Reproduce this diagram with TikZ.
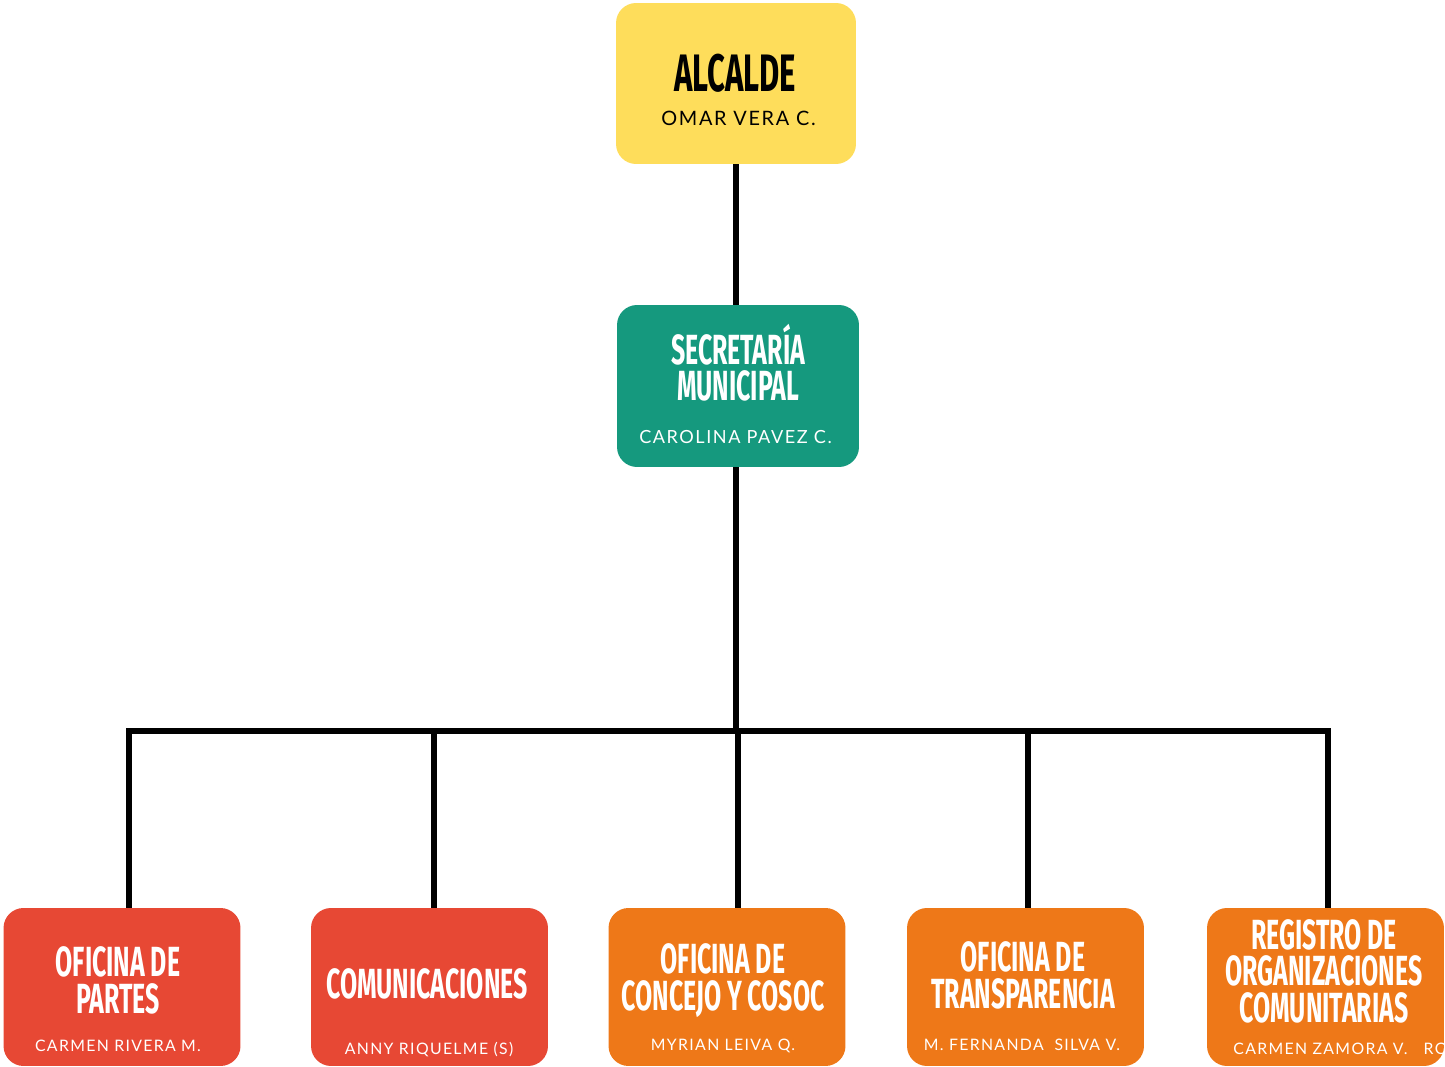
\documentclass[tikz,border=0pt]{standalone}
\usepackage{fontspec}
\setmainfont{Lato}
\newfontfamily\headfont[FakeStretch=0.59]{Fira Sans}
\newfontfamily\namefont[LetterSpace=8.5]{Lato}
\usetikzlibrary{positioning}
\definecolor{alcyellow}{HTML}{FEDD5B}
\definecolor{secgreen}{HTML}{15997E}
\definecolor{ofred}{HTML}{E74834}
\definecolor{oforange}{HTML}{EE7818}
\tikzstyle{unitbox} = [rectangle, rounded corners=0.4cm, minimum width=4.8cm, minimum height=3.22cm, inner sep=0pt]
\tikzstyle{bottombox} = [unitbox, minimum width=4.74cm, minimum height=3.16cm]
\tikzstyle{unittitle} = [font=\headfont\bfseries\fontsize{24}{20.5}\selectfont, text=white, align=center, anchor=base, inner sep=0pt]
\tikzstyle{person} = [font=\namefont\fontsize{9}{10}\selectfont, text=white, anchor=base, inner sep=0pt]
\tikzstyle{link} = [line width=3.2pt]

\begin{document}
\begin{tikzpicture}[x=0.02cm, y=-0.02cm]
	\useasboundingbox (0,0) rectangle (1445,1067);
	\node(alcalde) [unitbox, fill=alcyellow] at (736,83.5) {};
	\node(secretaria) [unitbox, fill=secgreen, minimum width=4.84cm, minimum height=3.24cm] at (738,386) {};
	\node(partes) [bottombox, fill=ofred] at (122,987) {};
	\node(comunicaciones) [bottombox, fill=ofred] at (429.5,987) {};
	\node(concejo) [bottombox, fill=oforange] at (727,987) {};
	\node(transparencia) [bottombox, fill=oforange] at (1025.5,987) {};
	\node(registro) [bottombox, fill=oforange] at (1325.5,987) {};

	% last line of each title sits on the given point
	\node(alcalde_t) [unittitle, text=black, font=\headfont\bfseries\fontsize{30}{30}\selectfont] at (735,92) {ALCALDE};
	\node(alcalde_n) [person, text=black, font=\namefont\fontsize{11.3}{12}\selectfont] at (738.5,126) {OMAR VERA C.};
	\node(secretaria_t) [unittitle] at (738,401) {SECRETARÍA\\MUNICIPAL};
	\node(secretaria_n) [person, font=\namefont\fontsize{10.3}{12}\selectfont] at (735.5,444) {CAROLINA PAVEZ C.};
	\node(partes_t) [unittitle] at (118,1013) {OFICINA DE\\PARTES};
	\node(partes_n) [person] at (118,1051) {CARMEN RIVERA M.};
	\node(comunicaciones_t) [unittitle] at (427,998) {COMUNICACIONES};
	\node(comunicaciones_n) [person] at (429,1054) {ANNY RIQUELME (S)};
	\node(concejo_t) [unittitle] at (723,1010) {OFICINA DE\\CONCEJO Y COSOC};
	\node(concejo_n) [person] at (723,1050) {MYRIAN LEIVA Q.};
	\node(transparencia_t) [unittitle] at (1023,1008) {OFICINA DE\\TRANSPARENCIA};
	\node(transparencia_n) [person] at (1022,1050) {M. FERNANDA \ SILVA V.};
	\node(registro_t) [unittitle] at (1324,1022) {REGISTRO DE\\ORGANIZACIONES\\COMUNITARIAS};
	\node(registro_n) [person, anchor=base west] at (1233,1054) {CARMEN ZAMORA V. \ \ RO};

	\coordinate(bus) at (736,731);
	\coordinate(j1) at (129,731);
	\coordinate(j2) at (434,731);
	\coordinate(j3) at (738,731);
	\coordinate(j4) at (1028,731);
	\coordinate(j5) at (1328,731);

	\draw[link] (alcalde.south -| bus) -- (secretaria.north -| bus);
	\draw[link] (secretaria.south -| bus) -- (bus);
	\draw[link] (j1 |- partes.north) -- (j1) -- (j5) -- (j5 |- registro.north);
	\draw[link] (j2) -- (j2 |- comunicaciones.north);
	\draw[link] (j3) -- (j3 |- concejo.north);
	\draw[link] (j4) -- (j4 |- transparencia.north);
\end{tikzpicture}
\end{document}
